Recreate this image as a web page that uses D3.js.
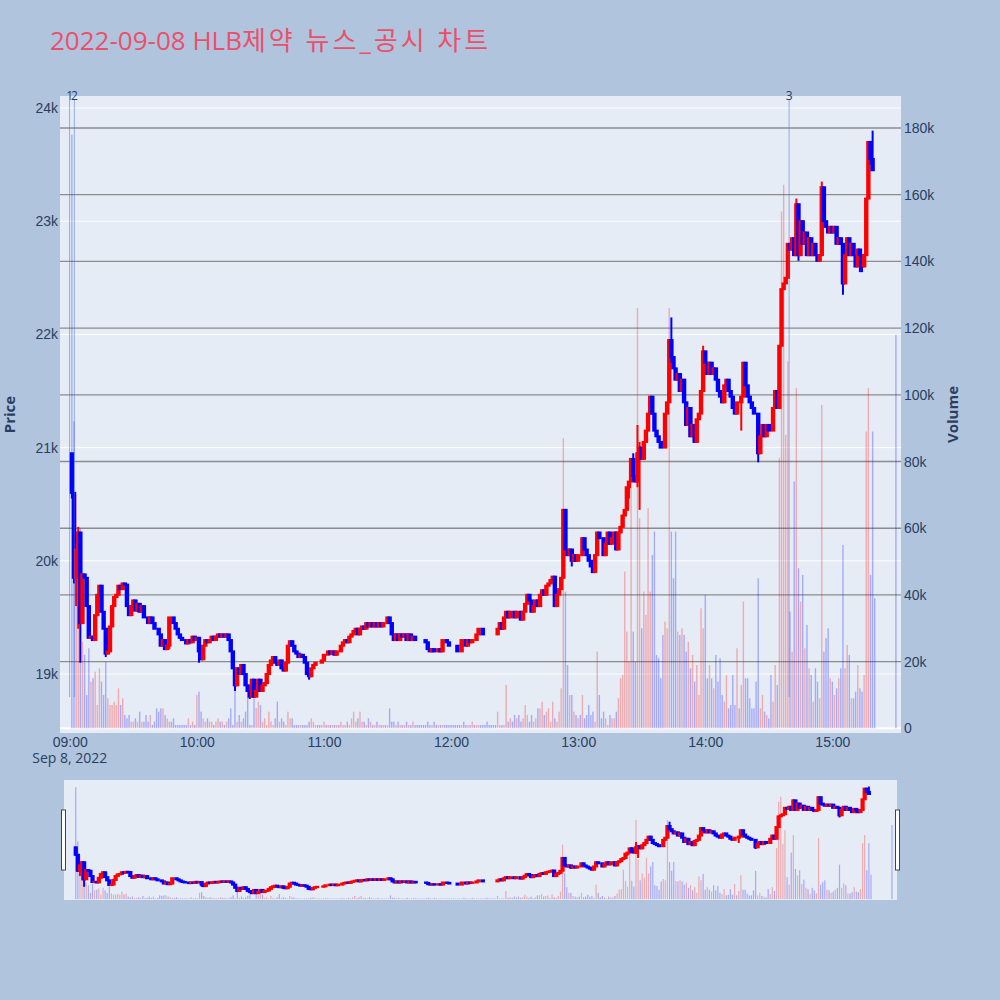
<!DOCTYPE html>
<html>
<head>
<meta charset="utf-8">
<script src="https://cdn.jsdelivr.net/npm/d3@7"></script>
<style>
  body { margin: 0; background: #b0c4de; }
  svg { display: block; font-family: "Open Sans", "Noto Sans CJK KR", sans-serif; }
</style>
</head>
<body>
<div id="chart"></div>
<script>
// Minute candles labelled by their closing minute (first bar = 09:01)
const sessionStart = '09:01:00';
const firstOpen = 20950;

// Close of each minute, 10 per row
const closes = [
    20600, 19850, 20100, 20250, 19450, 19880, 19850, 19600, 19320, 19330,
    19300, 19520, 19700, 19780, 19550, 19400, 19180, 19200, 19420, 19600,
    19680, 19700, 19780, 19750, 19800, 19790, 19600, 19520, 19600, 19650,
    19560, 19620, 19550, 19600, 19500, 19500, 19450, 19500, 19450, 19400,
    19400, 19350, 19250, 19300, 19220, 19250, 19500, 19500, 19450, 19400,
    19350, 19320, 19300, 19300, 19270, 19300, 19280, 19330, 19300, 19320,
    19200, 19130, 19250, 19300, 19280, 19300, 19330, 19300, 19330, 19350,
    19330, 19350, 19330, 19350, 19300, 19200, 19050, 18900, 19050, 19000,
    19080, 19000, 18900, 18850, 18800, 18950, 18800, 18850, 18950, 18850,
    18900, 18920, 19000, 19080, 19120, 19150, 19100, 19080, 19120, 19050,
    19030, 19100, 19250, 19290, 19250, 19200, 19180, 19150, 19170, 19150,
    19100, 19000, 18980, 19050, 19080, 19100, 19100, 19100, 19120, 19170,
    19170, 19200, 19180, 19200, 19170, 19200, 19200, 19250, 19280, 19300,
    19280, 19330, 19350, 19380, 19400, 19350, 19400, 19420, 19400, 19450,
    19420, 19450, 19420, 19450, 19420, 19450, 19420, 19450, 19450, 19500,
    19450, 19350, 19300, 19350, 19300, 19350, 19330, 19350, 19300, 19350,
    19300, 19330, 19300, 19300, 19300, 19300, 19300, 19280, 19220, 19200,
    19220, 19200, 19200, 19220, 19200, 19300, 19300, 19280, 19250, 19250,
    19250, 19250, 19200, 19200, 19300, 19300, 19250, 19300, 19280, 19300,
    19300, 19350, 19400, 19400, 19350, 19350, 19350, 19350, 19350, 19350,
    19350, 19400, 19450, 19400, 19500, 19550, 19500, 19550, 19550, 19500,
    19550, 19550, 19480, 19550, 19620, 19700, 19650, 19550, 19600, 19650,
    19600, 19700, 19740, 19700, 19780, 19800, 19830, 19860, 19600, 19700,
    19750, 19850, 20450, 20100, 20050, 20100, 20000, 20050, 20000, 20050,
    20050, 20200, 20100, 20050, 20000, 19950, 19900, 20050, 20250, 20200,
    20200, 20050, 20150, 20250, 20150, 20200, 20250, 20100, 20250, 20300,
    20400, 20450, 20650, 20700, 20900, 20750, 20700, 20950, 21000, 20900,
    21050, 21150, 21300, 21450, 21300, 21150, 21100, 21050, 21000, 21000,
    21300, 21400, 21950, 21800, 21700, 21600, 21650, 21500, 21600, 21400,
    21200, 21350, 21100, 21200, 21050, 21250, 21300, 21500, 21850, 21750,
    21650, 21750, 21650, 21700, 21600, 21500, 21450, 21400, 21550, 21600,
    21500, 21450, 21350, 21300, 21400, 21400, 21450, 21750, 21550, 21450,
    21400, 21350, 21300, 21300, 20950, 21100, 21200, 21100, 21200, 21150,
    21150, 21350, 21500, 21350, 21900, 22400, 22450, 22500, 22800, 22750,
    22850, 22700, 23150, 22700, 23000, 22800, 22900, 22700, 22850, 22700,
    22800, 22700, 22650, 22700, 23300, 23000, 22950, 22900, 22950, 22900,
    22950, 22800, 22850, 22800, 22450, 22700, 22850, 22700, 22800, 22700,
    22600, 22750, 22700, 22600, 22700, 23200, 23700, 23550, 23450, 23450
];

// Shadows that reach beyond the body: [minute index, high, low]
const wicks = [
    [0, 20950, 20550], [1, 20600, 19800], [2, 20100, 19600], [3, 20300, 19400],
    [4, 20250, 19100], [16, 19400, 19150], [46, 19500, 19220], [60, 19320, 19100],
    [77, 19050, 18850], [84, 18850, 18780], [112, 19000, 18950], [232, 20450, 19850],
    [236, 20100, 19950], [263, 20700, 20550], [265, 20950, 20700], [267, 21200, 20650],
    [268, 21050, 20450], [283, 22150, 21750], [294, 21200, 21050], [298, 21900, 21500],
    [316, 21450, 21150], [324, 21300, 20870], [335, 22400, 21900], [342, 23200, 22700],
    [343, 23150, 22650], [354, 23350, 22700], [364, 22800, 22350], [372, 22750, 22550],
    [373, 22700, 22550], [377, 23700, 23500], [378, 23800, 23450]
];

// Volume per minute, thousands of shares
const volumes = [
    178, 92, 70, 55, 60, 26, 22, 10, 24, 14,
    15, 17, 7, 18, 14, 10, 20, 9, 7, 7,
    8, 7, 12, 7, 9, 4, 3, 4, 2, 2,
    3, 2, 5, 2, 2, 4, 2, 4, 1, 2,
    6, 5, 6, 6, 4, 3, 2, 2, 3, 1,
    1, 1, 1, 1, 1, 3, 1, 2, 1, 10,
    11, 5, 3, 2, 3, 2, 2, 1, 2, 3,
    2, 2, 1, 2, 3, 6, 1, 13, 2, 4,
    2, 3, 5, 11, 1, 1, 9, 6, 8, 7,
    2, 3, 1, 5, 2, 1, 3, 8, 2, 3,
    2, 1, 5, 3, 3, 1, 1, 1, 1, 1,
    1, 1, 2, 3, 2, 1, 1, 1, 1, 2,
    1, 1, 1, 1, 1, 1, 1, 2, 1, 1,
    2, 1, 3, 5, 2, 3, 5, 2, 2, 1,
    3, 2, 1, 1, 2, 1, 1, 1, 1, 1,
    6, 2, 2, 1, 2, 1, 1, 1, 2, 1,
    1, 2, 1, 1, 1, 1, 1, 1, 2, 1,
    1, 2, 1, 1, 1, 1, 1, 1, 1, 1,
    1, 1, 1, 1, 1, 2, 1, 1, 1, 2,
    1, 1, 1, 1, 1, 1, 2, 1, 1, 1,
    1, 5, 1, 1, 1, 13, 2, 3, 2, 4,
    3, 4, 2, 3, 7, 4, 2, 4, 2, 3,
    6, 6, 8, 4, 5, 6, 2, 8, 3, 2,
    5, 12, 87, 41, 19, 10, 10, 5, 4, 3,
    4, 10, 3, 4, 7, 4, 5, 2, 23, 10,
    3, 5, 3, 1, 4, 3, 3, 5, 9, 15,
    16, 47, 29, 20, 72, 29, 20, 126, 63, 30,
    41, 34, 66, 41, 52, 59, 22, 21, 15, 28,
    32, 30, 126, 59, 45, 59, 29, 28, 30, 28,
    23, 26, 18, 22, 14, 19, 10, 36, 30, 40,
    15, 19, 15, 12, 22, 14, 21, 10, 8, 16,
    6, 7, 16, 7, 24, 6, 13, 38, 15, 15,
    9, 6, 6, 14, 45, 6, 10, 5, 4, 3,
    16, 8, 19, 13, 81, 155, 163, 88, 110, 35,
    23, 74, 102, 48, 38, 46, 24, 31, 18, 16,
    8, 18, 14, 9, 97, 23, 27, 30, 15, 14,
    10, 12, 15, 18, 55, 18, 25, 22, 9, 9,
    11, 19, 12, 11, 16, 89, 102, 46, 89, 39
];

// Closing single-price auction
const closingAuction = { time: '15:30:00', price: 23550, volume: 118 };

// News / disclosure markers
const newsLabels = ['1', '2', '3'];
const newsTimes = ['08:59:55', '09:02:10', '14:39:35'];

const priceTicks = [19000, 20000, 21000, 22000, 23000, 24000];
const volumeTicks = [0, 20, 40, 60, 80, 100, 120, 140, 160, 180];
const hourTicks = ['09:00:00', '10:00:00', '11:00:00', '12:00:00', '13:00:00', '14:00:00', '15:00:00'];

const titleText = '2022-09-08 HLB제약 뉴스_공시 차트';
const upColor = '#ff0000';
const downColor = '#0000ff';
const textColor = '#2a3f5f';

const parseTime = d3.timeParse('%H:%M:%S');
const fmtHour = d3.timeFormat('%H:%M');

// Build candle records from the arrays
const wickMap = new Map(wicks.map(w => [w[0], w]));
const startTime = parseTime(sessionStart);
const candles = closes.map((c, i) => {
    const o = i === 0 ? firstOpen : closes[i - 1];
    const w = wickMap.get(i);
    return {
        time: d3.timeMinute.offset(startTime, i),
        open: o,
        close: c,
        high: Math.max(o, c, w ? w[1] : o),
        low: Math.min(o, c, w ? w[2] : o),
        volume: volumes[i]
    };
});
candles.push({
    time: parseTime(closingAuction.time),
    open: closingAuction.price,
    close: closingAuction.price,
    high: closingAuction.price,
    low: closingAuction.price,
    volume: closingAuction.volume
});

const isUp = d => d.close > d.open;

const svg = d3.select('#chart')
    .append('svg')
    .attr('width', 1000)
    .attr('height', 1000);

svg.append('rect').attr('width', 1000).attr('height', 1000).attr('fill', '#b0c4de');

// Main plot area
const plot = { left: 60, right: 901, top: 96, bottom: 733 };
const timeDomain = [parseTime('08:55:24'), parseTime('15:32:24')];

const x = d3.scaleTime().domain(timeDomain).range([plot.left, plot.right]);
const yPrice = d3.scaleLinear().domain([18479, 24106]).range([plot.bottom, plot.top]);
const yVol = d3.scaleLinear().domain([-1.4, 189.6]).range([plot.bottom, plot.top]);

svg.append('rect')
    .attr('x', plot.left).attr('y', plot.top)
    .attr('width', plot.right - plot.left).attr('height', plot.bottom - plot.top)
    .attr('fill', '#e5ecf6');

svg.append('clipPath').attr('id', 'clip-main')
    .append('rect')
    .attr('x', plot.left).attr('y', plot.top)
    .attr('width', plot.right - plot.left).attr('height', plot.bottom - plot.top);

// Price grid (white) and volume grid (gray)
svg.append('g')
    .selectAll('line')
    .data(priceTicks)
    .enter()
    .append('line')
    .attr('x1', plot.left).attr('x2', plot.right)
    .attr('y1', d => yPrice(d)).attr('y2', d => yPrice(d))
    .attr('stroke', '#ffffff').attr('stroke-width', 1);

svg.append('g')
    .selectAll('line')
    .data(volumeTicks.filter(d => d > 0))
    .enter()
    .append('line')
    .attr('x1', plot.left).attr('x2', plot.right)
    .attr('y1', d => yVol(d)).attr('y2', d => yVol(d))
    .attr('stroke', '#8c8c8c').attr('stroke-width', 1.3);

svg.append('line')
    .attr('x1', plot.left).attr('x2', plot.right)
    .attr('y1', yVol(0)).attr('y2', yVol(0))
    .attr('stroke', '#ffffff').attr('stroke-width', 2);

// Function to draw volume bars
function drawVolume(g, xs, ys, barWidth) {
    g.selectAll('rect')
        .data(candles)
        .enter()
        .append('rect')
        .attr('x', d => xs(d.time) - barWidth / 2)
        .attr('width', barWidth)
        .attr('y', d => ys(d.volume))
        .attr('height', d => Math.max(0, ys(0) - ys(d.volume)))
        .attr('fill', d => isUp(d) ? upColor : downColor)
        .attr('fill-opacity', 0.28);
}

// Function to draw candles (shadow + body)
function drawCandles(g, xs, ys, bodyWidth) {
    const c = g.selectAll('g')
        .data(candles)
        .enter()
        .append('g')
        .attr('stroke', d => isUp(d) ? upColor : downColor)
        .attr('fill', d => isUp(d) ? upColor : downColor);

    c.append('line')
        .attr('x1', d => xs(d.time)).attr('x2', d => xs(d.time))
        .attr('y1', d => ys(d.high)).attr('y2', d => ys(d.low))
        .attr('stroke-width', 2);

    c.append('rect')
        .attr('x', d => xs(d.time) - bodyWidth / 2)
        .attr('width', bodyWidth)
        .attr('y', d => ys(Math.max(d.open, d.close)))
        .attr('height', d => Math.abs(ys(d.open) - ys(d.close)))
        .attr('stroke-width', 2);
}

const mainG = svg.append('g').attr('clip-path', 'url(#clip-main)');
drawVolume(mainG.append('g'), x, yVol, 1.4);
drawCandles(mainG.append('g'), x, yPrice, 2.4);

// News markers
const newsG = svg.append('g');
newsTimes.forEach((t, i) => {
    const nx = x(parseTime(t));
    newsG.append('line')
        .attr('x1', nx).attr('x2', nx)
        .attr('y1', 100).attr('y2', 697)
        .attr('stroke', 'royalblue').attr('stroke-opacity', 0.5)
        .attr('stroke-width', 1);
    newsG.append('text')
        .attr('x', nx).attr('y', 100)
        .attr('text-anchor', 'middle')
        .attr('font-size', 12)
        .attr('fill', textColor)
        .text(newsLabels[i]);
});

// Axes
const xAxis = d3.axisBottom(x)
    .tickValues(hourTicks.map(parseTime))
    .tickFormat(fmtHour)
    .tickSize(0)
    .tickPadding(4);

const xg = svg.append('g').attr('transform', `translate(0,${plot.bottom})`).call(xAxis);
xg.select('.domain').remove();
xg.selectAll('text').attr('font-size', 14).attr('fill', textColor).attr('font-family', null);

svg.append('text')
    .attr('x', x(parseTime(hourTicks[0])))
    .attr('y', 763)
    .attr('text-anchor', 'middle')
    .attr('font-size', 14)
    .attr('fill', textColor)
    .text('Sep 8, 2022');

const yLeft = d3.axisLeft(yPrice)
    .tickValues(priceTicks)
    .tickFormat(d => (d / 1000) + 'k')
    .tickSize(0)
    .tickPadding(2);

const yg = svg.append('g').attr('transform', `translate(${plot.left},0)`).call(yLeft);
yg.select('.domain').remove();
yg.selectAll('text').attr('font-size', 14).attr('fill', textColor).attr('font-family', null);

const yRight = d3.axisRight(yVol)
    .tickValues(volumeTicks)
    .tickFormat(d => d === 0 ? '0' : d + 'k')
    .tickSize(0)
    .tickPadding(3);

const yg2 = svg.append('g').attr('transform', `translate(${plot.right},0)`).call(yRight);
yg2.select('.domain').remove();
yg2.selectAll('text').attr('font-size', 14).attr('fill', textColor).attr('font-family', null);

// Axis titles
const midY = (plot.top + plot.bottom) / 2;
svg.append('text')
    .attr('transform', `translate(15,${midY}) rotate(-90)`)
    .attr('text-anchor', 'middle')
    .attr('font-size', 15)
    .attr('font-weight', 'bold')
    .attr('fill', textColor)
    .text('Price');

svg.append('text')
    .attr('transform', `translate(958,${midY}) rotate(-90)`)
    .attr('text-anchor', 'middle')
    .attr('font-size', 15)
    .attr('font-weight', 'bold')
    .attr('fill', textColor)
    .text('Volume');

// Title: latin part, then the Korean part a little wider
const splitAt = titleText.indexOf('HLB') + 3;
const title = svg.append('text')
    .attr('x', 50)
    .attr('y', 50)
    .attr('font-size', 26)
    .attr('fill', '#ea506a');
title.append('tspan').text(titleText.slice(0, splitAt));
title.append('tspan').attr('letter-spacing', 3).text(titleText.slice(splitAt));

// Range slider
const slider = { left: 64, right: 897, top: 780, bottom: 900 };
const xs = d3.scaleTime().domain(timeDomain).range([slider.left, slider.right]);
const ysPrice = yPrice.copy().range([slider.bottom, slider.top]);
const ysVol = yVol.copy().range([slider.bottom, slider.top]);

svg.append('rect')
    .attr('x', slider.left).attr('y', slider.top)
    .attr('width', slider.right - slider.left).attr('height', slider.bottom - slider.top)
    .attr('fill', '#e5ecf6');

svg.append('clipPath').attr('id', 'clip-slider')
    .append('rect')
    .attr('x', slider.left).attr('y', slider.top)
    .attr('width', slider.right - slider.left).attr('height', slider.bottom - slider.top);

const sliderG = svg.append('g').attr('clip-path', 'url(#clip-slider)');
drawVolume(sliderG.append('g'), xs, ysVol, 1.2);
drawCandles(sliderG.append('g'), xs, ysPrice, 2.2);

// Slider handles
[slider.left - 2.5, slider.right - 1.5].forEach(hx => {
    svg.append('rect')
        .attr('x', hx).attr('y', 810)
        .attr('width', 4).attr('height', 60)
        .attr('fill', '#ffffff')
        .attr('stroke', '#444444')
        .attr('stroke-width', 1);
});
</script>
</body>
</html>
